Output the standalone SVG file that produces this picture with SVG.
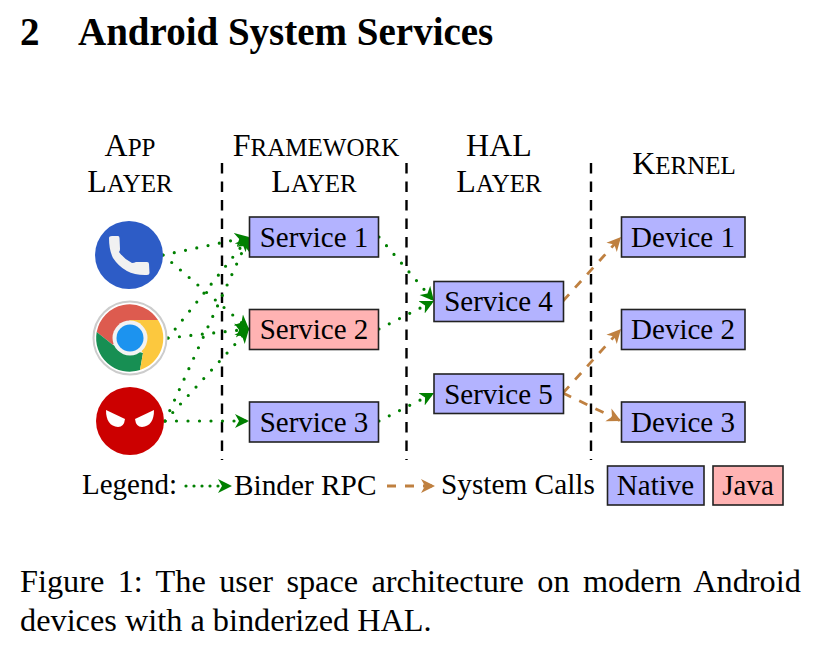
<svg xmlns="http://www.w3.org/2000/svg" width="815" height="652" viewBox="0 0 815 652">
<style>
text{font-family:"Liberation Serif","Times New Roman",serif;fill:#000}
.n{font-size:29px;text-anchor:middle}
.h{font-size:32px;text-anchor:middle}
.s{font-size:25px}
.b{stroke:#222;stroke-width:1.6}
.nat{fill:#b3b3ff}
.jav{fill:#ffb3b3}
.sep{stroke:#000;stroke-width:2.4;stroke-dasharray:10.5 8;fill:none}
.rpc{stroke:#008000;stroke-width:3.200;stroke-linecap:round;stroke-dasharray:0 11.5;fill:none;marker-end:url(#ga)}
.sys{stroke:#bf8040;stroke-width:2.8;stroke-dasharray:9 9;fill:none;marker-end:url(#ba)}
</style>
<defs>
<marker id="ga" markerUnits="userSpaceOnUse" markerWidth="16" markerHeight="16" refX="14" refY="8" orient="auto"><path d="M0 1 L14 8 L0 15 L4 8Z" fill="#008000"/></marker>
<marker id="ba" markerUnits="userSpaceOnUse" markerWidth="16" markerHeight="16" refX="14" refY="8" orient="auto"><path d="M0 1 L14 8 L0 15 L4 8Z" fill="#bf8040"/></marker>
</defs>
<text x="20" y="45" font-size="39" font-weight="bold">2</text>
<text x="78" y="45" font-size="39" font-weight="bold">Android System Services</text>
<g id="heads">
<text class="h" x="130" y="156">A<tspan class="s">PP</tspan></text>
<text class="h" x="130" y="192">L<tspan class="s">AYER</tspan></text>
<text class="h" x="316" y="156">F<tspan class="s">RAMEWORK</tspan></text>
<text class="h" x="314" y="192">L<tspan class="s">AYER</tspan></text>
<text class="h" x="499" y="156">HAL</text>
<text class="h" x="499" y="192">L<tspan class="s">AYER</tspan></text>
<text class="h" x="684" y="174">K<tspan class="s">ERNEL</tspan></text>
</g>
<g id="separators">
<line class="sep" x1="222" y1="163" x2="222" y2="460"/>
<line class="sep" x1="406.500" y1="163" x2="406.500" y2="460"/>
<line class="sep" x1="591" y1="163" x2="591" y2="460"/>
</g>
<g id="connectors">
<path class="rpc" d="M163 255L249 237"/>
<path class="rpc" d="M163 255L249 329"/>
<path class="rpc" d="M168 338L249 237"/>
<path class="rpc" d="M168 338L249 329"/>
<path class="rpc" d="M165 421L249 237"/>
<path class="rpc" d="M165 421L249 329"/>
<path class="rpc" d="M165 421L249 421"/>
<path class="rpc" d="M379 237L434 301"/>
<path class="rpc" d="M379 329L434 301"/>
<path class="rpc" d="M379 421L434 393"/>
<path class="sys" d="M563 301L621 237"/>
<path class="sys" d="M563 393L621 329"/>
<path class="sys" d="M563 393L621 421"/>
<path class="rpc" d="M186 486L232 486" style="stroke-dasharray:0 8"/>
<path class="sys" d="M387 486L435 486"/>
</g>
<g id="app-phone">
<circle cx="129" cy="255" r="34" fill="#2d5cc6"/>
<path d="M109 238Q109 236 112 236L118 236Q119.500 236 119.500 238L120 249Q120 251 119 252Q124 259 132 263Q134 263 136 262L147 262Q149 262 149 264L149.500 273Q149.500 275 147 275Q125 276 113 258Q109 250 109 238Z" fill="#f1f1f1"/>
</g>
<g id="app-chrome">
<circle cx="130" cy="338" r="36.500" fill="#fff" stroke="#ccc" stroke-width="2"/>
<path d="M96.700 332A33.500 33.500 0 0 1 158 320L130 320L113 345Z" fill="#dd5b4f"/>
<path d="M96.700 332L113 345L143 353L140 370A33.500 33.500 0 0 1 96.700 332Z" fill="#178f53"/>
<path d="M158 320A33.500 33.500 0 0 1 140 370L143 353L130 338L130 320Z" fill="#fcc83e"/>
<circle cx="130" cy="338" r="17.500" fill="#f2f2f2"/>
<circle cx="130" cy="338" r="13.500" fill="#1c93ef"/>
</g>
<g id="app-evil">
<circle cx="130" cy="421" r="34" fill="#cc0000"/>
<path d="M106 410L125 419Q124 427 118 427Q106 426 106 410Z" fill="#fff"/>
<path d="M154 410L135 419Q136 427 142 427Q154 426 154 410Z" fill="#fff"/>
</g>
<g id="service-1"><rect class="b nat" x="249.500" y="217" width="129" height="40"/><text class="n" x="314" y="247">Service 1</text></g>
<g id="service-2"><rect class="b jav" x="249.500" y="309.500" width="129" height="40"/><text class="n" x="314" y="339">Service 2</text></g>
<g id="service-3"><rect class="b nat" x="249.500" y="402" width="129" height="40"/><text class="n" x="314" y="432">Service 3</text></g>
<g id="service-4"><rect class="b nat" x="434" y="281.500" width="129.500" height="40"/><text class="n" x="498.500" y="311">Service 4</text></g>
<g id="service-5"><rect class="b nat" x="434" y="374" width="129.500" height="39.500"/><text class="n" x="498.500" y="404">Service 5</text></g>
<g id="device-1"><rect class="b nat" x="621.500" y="217" width="123.500" height="40"/><text class="n" x="683" y="247">Device 1</text></g>
<g id="device-2"><rect class="b nat" x="621.500" y="309.500" width="123.500" height="40"/><text class="n" x="683" y="339">Device 2</text></g>
<g id="device-3"><rect class="b nat" x="621.500" y="402" width="123.500" height="40"/><text class="n" x="683" y="432">Device 3</text></g>
<g id="legend">
<text x="82" y="494" font-size="29">Legend:</text>
<text x="234" y="495" font-size="29.300">Binder RPC</text>
<text x="441" y="494" font-size="29.300">System Calls</text>
<rect class="b nat" x="607.500" y="466" width="96.500" height="39"/><text class="n" x="655.500" y="495">Native</text>
<rect class="b jav" x="713" y="466" width="70" height="39"/><text class="n" x="748" y="495">Java</text>
</g>
<text x="20" y="592" font-size="32.300" word-spacing="5.300">Figure 1: The user space architecture on modern Android</text>
<text x="20" y="631" font-size="32.300">devices with a binderized HAL.</text>
</svg>
